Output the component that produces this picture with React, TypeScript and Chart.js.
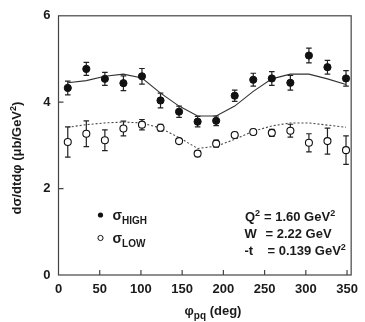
import React, { useEffect, useRef } from "react";
import { Chart, registerables } from "chart.js";

Chart.register(...registerables);

const phi = [11.25, 33.75, 56.25, 78.75, 101.25, 123.75, 146.25, 168.75, 191.25, 213.75, 236.25, 258.75, 281.25, 303.75, 326.25, 348.75];
const highVals = [4.33, 4.77, 4.54, 4.44, 4.60, 4.04, 3.78, 3.55, 3.57, 4.15, 4.52, 4.55, 4.45, 5.08, 4.81, 4.55];
const highErr = [0.16, 0.15, 0.15, 0.17, 0.18, 0.17, 0.13, 0.12, 0.11, 0.13, 0.15, 0.16, 0.17, 0.17, 0.16, 0.18];
const lowVals = [3.08, 3.27, 3.12, 3.39, 3.48, 3.41, 3.10, 2.81, 3.04, 3.24, 3.31, 3.29, 3.34, 3.06, 3.10, 2.89];
const lowErr = [0.35, 0.30, 0.24, 0.17, 0.12, 0.08, 0.05, 0.07, 0.08, 0.06, 0.06, 0.08, 0.15, 0.21, 0.30, 0.33];
const highFit = [4.45, 4.50, 4.60, 4.65, 4.56, 4.21, 3.91, 3.68, 3.68, 3.91, 4.25, 4.54, 4.65, 4.65, 4.54, 4.41];
const lowFit = [3.42, 3.48, 3.52, 3.54, 3.52, 3.40, 3.18, 2.93, 2.98, 3.14, 3.33, 3.45, 3.52, 3.52, 3.47, 3.42];
const xTicks = [0, 50, 100, 150, 200, 250, 300, 350];
const yTicks = [0, 2, 4, 6];

const FONT = "'Liberation Sans', Arial, Helvetica, sans-serif";
const INK = "#1a1a1a";

type Part = { t: string; size: number; dy?: number; x?: number };

function drawParts(ctx: CanvasRenderingContext2D, x0: number, y: number, parts: Part[]) {
  let x = x0;
  for (const p of parts) {
    if (p.x !== undefined) x = p.x;
    ctx.font = `bold ${p.size}px ${FONT}`;
    ctx.fillText(p.t, x, y + (p.dy || 0));
    x += ctx.measureText(p.t).width;
  }
}

function partsWidth(ctx: CanvasRenderingContext2D, parts: Part[]) {
  let w = 0;
  for (const p of parts) {
    ctx.font = `bold ${p.size}px ${FONT}`;
    w += ctx.measureText(p.t).width;
  }
  return w;
}

const errorBars = {
  id: "errorBars",
  beforeDatasetsDraw(chart: any) {
    const ctx = chart.ctx;
    const xs = chart.scales.x;
    const ys = chart.scales.y;
    ctx.save();
    ctx.strokeStyle = "#222";
    ctx.lineWidth = 1.2;
    const sets: [number[], number[]][] = [
      [highVals, highErr],
      [lowVals, lowErr],
    ];
    for (const [vals, errs] of sets) {
      vals.forEach((v, i) => {
        const px = xs.getPixelForValue(phi[i]);
        const top = ys.getPixelForValue(v + errs[i]);
        const bot = ys.getPixelForValue(v - errs[i]);
        ctx.beginPath();
        ctx.moveTo(px, top);
        ctx.lineTo(px, bot);
        ctx.moveTo(px - 2.8, top);
        ctx.lineTo(px + 2.8, top);
        ctx.moveTo(px - 2.8, bot);
        ctx.lineTo(px + 2.8, bot);
        ctx.stroke();
      });
    }
    ctx.restore();
  },
};

const decorations = {
  id: "decorations",
  afterDraw(chart: any) {
    const ctx: CanvasRenderingContext2D = chart.ctx;
    const a = chart.chartArea;
    const xs = chart.scales.x;
    const ys = chart.scales.y;
    ctx.save();
    // frame
    ctx.strokeStyle = "#444";
    ctx.lineWidth = 1.2;
    ctx.strokeRect(a.left, a.top, a.right - a.left, a.bottom - a.top);
    // inward ticks
    ctx.beginPath();
    xTicks.forEach((t) => {
      if (t === 0) return;
      const px = xs.getPixelForValue(t);
      ctx.moveTo(px, a.bottom);
      ctx.lineTo(px, a.bottom - 5);
    });
    yTicks.forEach((t) => {
      if (t === 0 || t === 6) return;
      const py = ys.getPixelForValue(t);
      ctx.moveTo(a.left, py);
      ctx.lineTo(a.left + 5, py);
    });
    ctx.stroke();

    ctx.fillStyle = INK;
    ctx.textBaseline = "alphabetic";
    ctx.textAlign = "left";

    // y title (rotated)
    const yParts: Part[] = [
      { t: "dσ/dtdφ (μb/GeV", size: 13 },
      { t: "2", size: 9, dy: -5 },
      { t: ")", size: 13 },
    ];
    ctx.save();
    ctx.translate(21, 158);
    ctx.rotate(-Math.PI / 2);
    const yw = partsWidth(ctx, yParts);
    drawParts(ctx, -yw / 2, 0, yParts);
    ctx.restore();

    // x title
    const xParts: Part[] = [
      { t: "φ", size: 13 },
      { t: "pq", size: 10, dy: 4 },
      { t: " (deg)", size: 13 },
    ];
    const xw = partsWidth(ctx, xParts);
    drawParts(ctx, 213 - xw / 2, 315, xParts);

    // legend
    ctx.beginPath();
    ctx.arc(100.5, 215, 2.6, 0, Math.PI * 2);
    ctx.fillStyle = "#111";
    ctx.fill();
    ctx.beginPath();
    ctx.arc(100.5, 238, 2.6, 0, Math.PI * 2);
    ctx.fillStyle = "#fff";
    ctx.fill();
    ctx.strokeStyle = "#111";
    ctx.lineWidth = 1;
    ctx.stroke();
    ctx.fillStyle = INK;
    drawParts(ctx, 112.5, 219.5, [
      { t: "σ", size: 14 },
      { t: "HIGH", size: 10, dy: 4.5 },
    ]);
    drawParts(ctx, 112.5, 242.5, [
      { t: "σ", size: 14 },
      { t: "LOW", size: 10, dy: 4.5 },
    ]);

    // annotation
    drawParts(ctx, 245, 220.5, [
      { t: "Q", size: 13 },
      { t: "2", size: 9, dy: -5 },
      { t: "= 1.60 GeV", size: 13, x: 264 },
      { t: "2", size: 9, dy: -5 },
    ]);
    drawParts(ctx, 244.5, 237.5, [
      { t: "W", size: 13 },
      { t: "= 2.22 GeV", size: 13, x: 265.5 },
    ]);
    drawParts(ctx, 244.5, 255, [
      { t: "-t", size: 13 },
      { t: "= 0.139 GeV", size: 13, x: 267.5 },
      { t: "2", size: 9, dy: -5 },
    ]);
    ctx.restore();
  },
};

export default function App() {
  const ref = useRef<HTMLCanvasElement | null>(null);
  useEffect(() => {
    document.body.style.margin = "0";
    const canvas = ref.current;
    if (!canvas) return;
    const chart = new Chart(canvas, {
      type: "line",
      data: {
        datasets: [
          {
            label: "high fit",
            data: phi.map((x, i) => ({ x, y: highFit[i] })),
            borderColor: "#333",
            borderWidth: 1.1,
            pointRadius: 0,
            fill: false,
            tension: 0,
            order: 3,
          },
          {
            label: "low fit",
            data: phi.map((x, i) => ({ x, y: lowFit[i] })),
            borderColor: "#444",
            borderWidth: 1.1,
            borderDash: [2, 2],
            pointRadius: 0,
            fill: false,
            tension: 0,
            order: 3,
          },
          {
            label: "σHIGH",
            data: phi.map((x, i) => ({ x, y: highVals[i] })),
            showLine: false,
            pointRadius: 3.6,
            pointBackgroundColor: "#111",
            pointBorderColor: "#111",
            pointBorderWidth: 1,
            order: 1,
          },
          {
            label: "σLOW",
            data: phi.map((x, i) => ({ x, y: lowVals[i] })),
            showLine: false,
            pointRadius: 3.5,
            pointBackgroundColor: "#fff",
            pointBorderColor: "#111",
            pointBorderWidth: 1.1,
            order: 1,
          },
        ],
      },
      options: {
        animation: false,
        responsive: false,
        maintainAspectRatio: false,
        layout: { padding: { left: 0, top: 13, right: 8, bottom: 0 } },
        plugins: {
          legend: { display: false },
          tooltip: { enabled: false },
          title: { display: false },
        },
        scales: {
          x: {
            type: "linear",
            min: 0,
            max: 355,
            afterBuildTicks: (s: any) => {
              s.ticks = xTicks.map((v) => ({ value: v }));
            },
            afterFit: (s: any) => {
              s.height = 47;
            },
            grid: { display: false, drawTicks: false },
            border: { display: false },
            ticks: {
              color: INK,
              font: { family: FONT, size: 13, weight: "bold" },
              padding: 7,
              maxRotation: 0,
              autoSkip: false,
            },
          },
          y: {
            type: "linear",
            min: 0,
            max: 6,
            afterBuildTicks: (s: any) => {
              s.ticks = yTicks.map((v) => ({ value: v }));
            },
            afterFit: (s: any) => {
              s.width = 58.5;
            },
            grid: { display: false, drawTicks: false },
            border: { display: false },
            ticks: {
              color: INK,
              font: { family: FONT, size: 13, weight: "bold" },
              padding: 8,
            },
          },
        },
      },
      plugins: [errorBars, decorations],
    });
    return () => chart.destroy();
  }, []);
  return (
    <div style={{ position: "relative", width: 365, height: 322, background: "#fff" }}>
      <canvas ref={ref} width={365} height={322} style={{ display: "block" }} />
    </div>
  );
}
